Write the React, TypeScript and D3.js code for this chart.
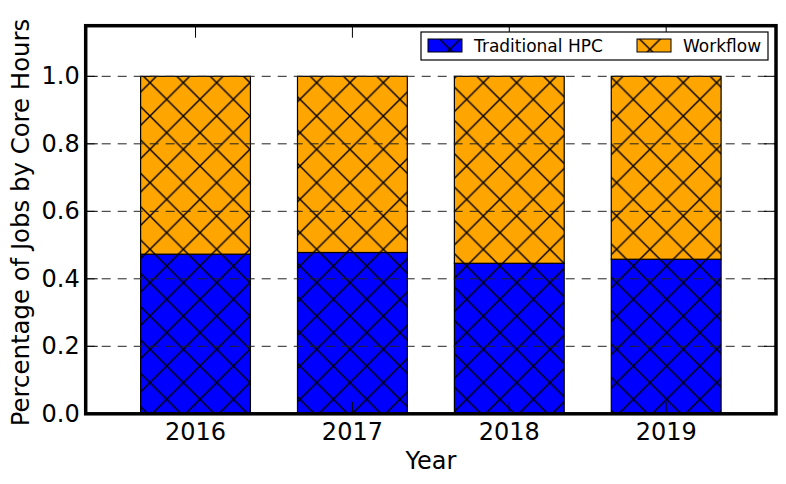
import { useMemo } from 'react'
import * as d3 from 'd3'

const years = ['2016', '2017', '2018', '2019']
const traditionalHPC = [0.473, 0.478, 0.446, 0.458]
const workflow = [0.527, 0.522, 0.554, 0.542]
const yTicks = [0.0, 0.2, 0.4, 0.6, 0.8, 1.0]
const seriesNames = ['Traditional HPC', 'Workflow']
const seriesColors = ['#0000ff', '#ffa500']

const W = 786
const H = 484
const margin = { top: 25.7, right: 10, bottom: 70.2, left: 85.7 }
const FONT = 'DejaVu Sans, sans-serif'

export default function App() {
  const innerW = W - margin.left - margin.right
  const innerH = H - margin.top - margin.bottom

  const x = useMemo(() => d3.scaleLinear().domain([-0.7, 3.7]).range([0, innerW]), [innerW])
  const y = useMemo(() => d3.scaleLinear().domain([0, 1.15]).range([innerH, 0]), [innerH])
  const barW = x(0.7) - x(0)

  // stack the two series per year
  const stacked = years.map((yr, i) => ({
    year: yr,
    i,
    segs: [
      { y0: 0, y1: traditionalHPC[i], s: 0 },
      { y0: traditionalHPC[i], y1: traditionalHPC[i] + workflow[i], s: 1 },
    ],
  }))

  const hatchSize = 33.33

  return (
    <svg
      width={W}
      height={H}
      style={{ position: 'absolute', left: 0, top: 0, background: '#fff' }}
      fontFamily={FONT}
    >
      <defs>
        <pattern
          id="hatch"
          patternUnits="userSpaceOnUse"
          width={hatchSize}
          height={hatchSize}
          x={16.67}
          y={16}
        >
          <path
            d={`M-2,-2 L${hatchSize + 2},${hatchSize + 2} M-2,${hatchSize + 2} L${hatchSize + 2},-2`}
            stroke="#000"
            strokeWidth={1.4}
            fill="none"
          />
        </pattern>
      </defs>
      <rect width={W} height={H} fill="#fff" />

      {/* bars */}
      {stacked.map(d =>
        d.segs.map(sg => {
          const bx = margin.left + x(d.i) - barW / 2
          const by = margin.top + y(sg.y1)
          const bh = y(sg.y0) - y(sg.y1)
          return (
            <g key={`${d.year}-${sg.s}`}>
              <rect x={bx} y={by} width={barW} height={bh} fill={seriesColors[sg.s]} />
              <rect x={bx} y={by} width={barW} height={bh} fill="url(#hatch)" />
              <rect x={bx} y={by} width={barW} height={bh} fill="none" stroke="#000" strokeWidth={1.2} />
            </g>
          )
        })
      )}

      {/* dashed grid on top */}
      {yTicks.filter(t => t > 0).map(t => (
        <line
          key={`g${t}`}
          x1={margin.left}
          x2={margin.left + innerW}
          y1={margin.top + y(t)}
          y2={margin.top + y(t)}
          stroke="#222"
          strokeWidth={1}
          strokeDasharray="9,7"
        />
      ))}

      {/* ticks */}
      {yTicks.map(t => (
        <g key={`yt${t}`}>
          <line x1={margin.left} x2={margin.left + 12} y1={margin.top + y(t)} y2={margin.top + y(t)} stroke="#000" />
          <line x1={margin.left + innerW - 12} x2={margin.left + innerW} y1={margin.top + y(t)} y2={margin.top + y(t)} stroke="#000" />
          <text
            x={margin.left - 6}
            y={margin.top + y(t)}
            textAnchor="end"
            dominantBaseline="central"
            fontSize={24}
          >
            {d3.format('.1f')(t)}
          </text>
        </g>
      ))}
      {years.map((yr, i) => (
        <g key={`xt${yr}`}>
          <line x1={margin.left + x(i)} x2={margin.left + x(i)} y1={margin.top} y2={margin.top + 12} stroke="#000" />
          <line x1={margin.left + x(i)} x2={margin.left + x(i)} y1={margin.top + innerH - 12} y2={margin.top + innerH} stroke="#000" />
          <text x={margin.left + x(i)} y={439.5} textAnchor="middle" fontSize={24}>
            {yr}
          </text>
        </g>
      ))}

      {/* frame */}
      <rect
        x={margin.left}
        y={margin.top}
        width={innerW}
        height={innerH}
        fill="none"
        stroke="#000"
        strokeWidth={3.5}
      />

      {/* axis labels */}
      <text x={margin.left + innerW / 2} y={469} textAnchor="middle" fontSize={24}>
        Year
      </text>
      <text
        transform={`translate(28.5,222.5) rotate(-90)`}
        textAnchor="middle"
        fontSize={24.4}
      >
        Percentage of Jobs by Core Hours
      </text>

      {/* legend */}
      <g>
        <rect x={421} y={32} width={347} height={28} fill="#fff" stroke="#000" strokeWidth={1.2} />
        {seriesNames.map((name, s) => {
          const px = s === 0 ? 428 : 637
          return (
            <g key={name}>
              <rect x={px} y={39} width={34} height={13} fill={seriesColors[s]} />
              <rect x={px} y={39} width={34} height={13} fill="url(#hatch)" />
              <rect x={px} y={39} width={34} height={13} fill="none" stroke="#000" strokeWidth={1} />
              <text x={px + 46} y={46} dominantBaseline="central" fontSize={17}>
                {name}
              </text>
            </g>
          )
        })}
      </g>
    </svg>
  )
}
